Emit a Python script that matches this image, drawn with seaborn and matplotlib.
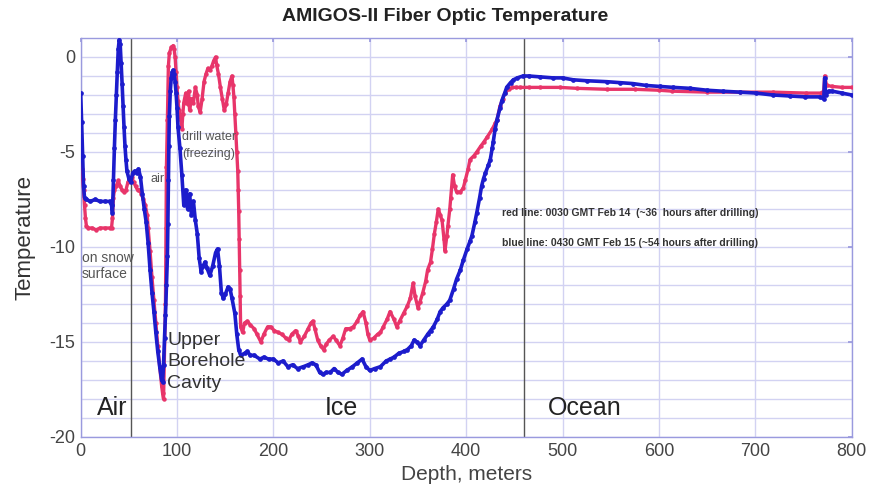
import matplotlib
matplotlib.use("Agg")
import matplotlib.pyplot as plt
import seaborn as sns
import pandas as pd

# ---- data ----
blue_depth = [0, 1, 2, 3, 4, 6, 10, 15, 20, 25, 30, 32, 33, 34, 35, 36, 37, 38, 39, 40, 41, 42, 43, 44, 45,
              46, 47, 48, 50, 52, 54, 56, 58, 60, 62, 64, 66, 68, 70, 72, 74, 76, 78, 80, 82, 84, 85, 86, 87,
              88, 89, 90, 90.5, 91, 91.5, 92, 93, 94, 95, 96, 97, 98, 99, 100, 101, 103, 105, 107, 109, 111,
              113, 115, 117, 119, 121, 123, 125, 127, 129, 131, 134, 137, 140, 142, 144, 146, 148, 150, 153,
              155, 157, 160, 162, 164, 166, 170, 173, 176, 180, 186, 190, 195, 200, 205, 210, 215, 220, 225,
              231, 236, 240, 244, 248, 251, 255, 259, 263, 267, 271, 276, 282, 287, 292, 296, 300, 305, 311,
              317, 321, 325, 330, 335, 339, 343, 346, 349, 352, 356, 360, 363, 366, 370, 373, 376, 380, 383,
              387, 390, 394, 397, 401, 404, 406, 409, 411, 414, 416, 418, 420, 423, 425, 427, 428, 430, 432,
              435, 437, 440, 442, 446, 449, 453, 459, 465, 477, 490, 500, 511, 525, 546, 560, 573, 587, 601,
              615, 632, 650, 666, 684, 701, 718, 736, 752, 767, 771, 772, 773, 776, 780, 790, 800]
blue_temp = [-1.9, -3.4, -5.2, -6.8, -7.4, -7.5, -7.6, -7.5, -7.6, -7.6, -7.6, -7.8, -8.2, -6.5, -4.8, -3.3,
             -2.0, -0.8, 0.4, 0.9, 0.7, -0.3, -1.4, -2.6, -3.7, -4.7, -5.4, -6.0, -6.4, -6.6, -6.1, -6.0,
             -6.1, -5.9, -6.3, -7.2, -8.0, -8.7, -9.8, -11.2, -12.4, -13.4, -14.5, -15.5, -16.3, -17.0,
             -17.1, -16.2, -14.8, -13.6, -12.0, -10.5, -8.8, -6.5, -4.7, -3.1, -1.8, -1.1, -0.8, -0.7, -0.9,
             -1.3, -1.9, -2.7, -3.7, -4.8, -6.2, -7.8, -7.0, -8.0, -7.2, -8.3, -7.6, -8.6, -9.3, -10.6,
             -11.3, -11.0, -10.8, -11.1, -11.5, -11.0, -10.3, -10.1, -11.0, -12.4, -12.7, -12.5, -12.1,
             -12.2, -12.7, -13.5, -14.6, -15.4, -15.7, -15.6, -15.5, -15.7, -15.7, -15.9, -15.8, -15.9,
             -15.9, -16.1, -16.0, -16.3, -16.2, -16.4, -16.3, -16.2, -16.1, -16.2, -16.6, -16.7, -16.6,
             -16.6, -16.4, -16.6, -16.7, -16.5, -16.3, -16.1, -15.9, -16.3, -16.5, -16.4, -16.3, -16.0,
             -15.9, -15.8, -15.6, -15.5, -15.4, -15.2, -14.9, -15.0, -15.2, -14.9, -14.6, -14.4, -14.2,
             -13.8, -13.4, -13.2, -13.0, -12.8, -12.2, -11.7, -11.2, -10.7, -10.1, -9.7, -9.4, -8.7, -8.2,
             -7.4, -6.8, -6.4, -6.1, -5.7, -5.4, -4.8, -4.5, -3.8, -3.3, -2.7, -2.3, -1.9, -1.6, -1.35,
             -1.2, -1.1, -1.0, -1.0, -1.05, -1.1, -1.1, -1.2, -1.25, -1.3, -1.35, -1.4, -1.5, -1.55, -1.6,
             -1.65, -1.75, -1.8, -1.85, -1.9, -2.0, -2.05, -2.1, -2.1, -2.2, -1.1, -2.0, -1.8, -1.8, -1.9,
             -2.0]

red_depth = [0, 1, 2, 3, 4, 5, 6, 8, 12, 16, 20, 25, 30, 32, 33, 34, 35, 37, 39, 41, 43, 45, 47, 49, 51,
             53, 55, 57, 59, 61, 63, 65, 67, 69, 70, 72, 74, 76, 78, 80, 82, 84, 85, 86, 88, 88.5, 89, 90,
             91, 92, 94, 96, 97, 98, 99, 100, 101, 102, 104, 105, 106, 107, 109, 111, 112, 113, 115, 117,
             119, 121, 122, 124, 126, 128, 130, 132, 134, 136, 138, 140, 141, 143, 145, 147, 149, 151, 153,
             155, 157, 158, 159, 160, 161, 162, 163, 163.5, 164, 164.5, 165, 165.5, 166, 168, 170, 173,
             176, 180, 183, 187, 190, 194, 197, 201, 205, 209, 213, 216, 219, 223, 226, 228, 232, 236, 239,
             241, 243, 246, 249, 252, 255, 258, 262, 265, 269, 272, 275, 279, 283, 287, 290, 293, 296, 298,
             300, 304, 308, 311, 314, 318, 321, 325, 328, 331, 335, 339, 342, 345, 347, 350, 352, 355, 358,
             360, 363, 365, 367, 369, 371, 373, 375, 377, 378, 380, 381, 383, 384, 386, 388, 390, 394, 397,
             399, 402, 404, 408, 411, 415, 418, 422, 427, 430, 432, 435, 438, 440, 444, 448, 452, 456, 465,
             477, 497, 515, 546, 575, 600, 614, 650, 684, 718, 753, 768, 771, 772, 774, 780, 790, 800]
red_temp = [-5.5, -5.9, -6.4, -7.0, -7.8, -8.5, -8.9, -9.0, -9.0, -9.1, -9.0, -9.0, -9.0, -9.0, -8.5, -7.4,
            -7.0, -6.8, -6.5, -6.8, -7.0, -7.1, -7.0, -6.6, -6.4, -6.3, -6.6, -6.8, -7.0, -7.0, -7.2, -7.5,
            -7.8, -8.3, -9.0, -10.2, -11.6, -12.8, -14.0, -15.2, -16.3, -17.3, -17.7, -18.0, -13.0, -9.0,
            -5.8, -3.3, -0.5, 0.2, 0.5, 0.6, 0.4, 0.0, -0.8, -1.6, -2.3, -2.8, -3.3, -3.8, -3.0, -2.4, -1.9,
            -2.5, -1.8, -2.8, -2.2, -2.4, -1.6, -2.0, -2.6, -2.9, -2.2, -1.3, -0.9, -0.6, -0.7, -0.5, -0.2,
            0.0, -0.4, -0.9, -1.6, -2.2, -2.8, -2.5, -1.9, -1.3, -1.0, -1.5, -2.1, -3.0, -4.0, -5.0, -6.0,
            -7.0, -8.1, -9.6, -11.2, -12.6, -14.2, -14.5, -14.0, -13.9, -14.1, -14.3, -14.6, -15.0, -14.6,
            -14.2, -14.2, -14.4, -14.5, -14.6, -14.8, -14.9, -14.6, -14.4, -14.7, -15.0, -14.7, -14.3,
            -14.0, -13.9, -14.3, -14.9, -15.2, -15.4, -15.1, -14.9, -14.7, -14.9, -15.2, -14.8, -14.3,
            -14.3, -14.2, -13.9, -13.6, -13.4, -14.0, -14.6, -14.9, -14.8, -14.6, -14.5, -14.2, -13.8,
            -13.4, -13.8, -14.2, -13.9, -13.5, -13.1, -12.7, -11.9, -12.6, -13.2, -12.9, -12.4, -11.8,
            -11.2, -10.8, -10.1, -9.3, -8.7, -8.0, -8.3, -8.6, -9.6, -10.2, -9.4, -8.9, -8.0, -7.4, -6.2,
            -6.8, -7.1, -7.1, -6.9, -6.5, -5.9, -5.4, -5.2, -5.0, -4.7, -4.5, -4.2, -3.8, -3.5, -3.3, -2.6,
            -2.2, -1.9, -1.7, -1.6, -1.6, -1.6, -1.6, -1.6, -1.6, -1.65, -1.7, -1.7, -1.75, -1.8, -1.85,
            -1.85, -1.85, -1.9, -1.9, -1.8, -1.0, -1.5, -1.55, -1.6, -1.6]

x_ticks = [0, 100, 200, 300, 400, 500, 600, 700, 800]
y_ticks = [0, -5, -10, -15, -20]
boundary_depths = [52, 460]

RED = "#e8356a"
BLUE = "#1c1ccc"
GRID = "#d2d2f2"
FRAME = "#9a9ade"

sns.set_theme(style="white")
plt.rcParams["font.family"] = ["Liberation Sans", "DejaVu Sans"]
plt.rcParams["axes.unicode_minus"] = False

fig = plt.figure(figsize=(8.72, 4.94), dpi=100)
ax = fig.add_axes([0.0925, 0.1154, 0.8842, 0.8077])

red_df = pd.DataFrame({"depth": red_depth, "temp": red_temp})
blue_df = pd.DataFrame({"depth": blue_depth, "temp": blue_temp})

sns.lineplot(data=red_df, x="depth", y="temp", ax=ax, color=RED, linewidth=2.4,
             marker="o", markersize=3.2, markeredgewidth=0, sort=False, estimator=None, zorder=3)
sns.lineplot(data=blue_df, x="depth", y="temp", ax=ax, color=BLUE, linewidth=2.6,
             marker="o", markersize=3.4, markeredgewidth=0, sort=False, estimator=None, zorder=4)

for d in boundary_depths:
    ax.axvline(d, color="#555555", linewidth=1.0, zorder=2)

ax.set_xlim(0, 800)
ax.set_ylim(-20, 1)
ax.set_xticks(x_ticks)
ax.set_yticks(y_ticks)
ax.set_yticks(list(range(-19, 1)), minor=True)
ax.grid(True, which="major", color=GRID, linewidth=1.0, zorder=0)
ax.grid(True, which="minor", axis="y", color=GRID, linewidth=1.0, zorder=0)
ax.set_axisbelow(True)
for s in ax.spines.values():
    s.set_color(FRAME)
    s.set_linewidth(1.0)
ax.tick_params(axis="both", which="major", direction="in", length=3, color=FRAME,
               labelsize=13, labelcolor="#444444", pad=4)
ax.tick_params(axis="both", which="minor", length=0)
ax.tick_params(top=True, right=True)

ax.set_xlabel("Depth, meters", fontsize=15, color="#444444", labelpad=4)
ax.set_ylabel("Temperature", fontsize=16, color="#333333", labelpad=10)
fig.text(0.510, 0.967, "AMIGOS-II Fiber Optic Temperature", ha="center", va="center",
         fontsize=14, fontweight="bold", color="#222222")

ax.text(105, -4.2, "drill water", fontsize=9, color="#555555", va="center", zorder=5)
ax.text(105, -5.1, "(freezing)", fontsize=9, color="#555555", va="center", zorder=5)
ax.text(72, -6.4, "air", fontsize=9, color="#555555", va="center", zorder=5)
ax.text(1.5, -10.6, "on snow", fontsize=10, color="#555555", va="center", zorder=5)
ax.text(1.5, -11.4, "surface", fontsize=10, color="#555555", va="center", zorder=5)
ax.text(90, -14.9, "Upper", fontsize=14, color="#333333", va="center", zorder=5)
ax.text(90, -16.05, "Borehole", fontsize=14, color="#333333", va="center", zorder=5)
ax.text(90, -17.2, "Cavity", fontsize=14, color="#333333", va="center", zorder=5)
ax.text(17, -18.5, "Air", fontsize=18, color="#222222", va="center", zorder=5)
ax.text(253, -18.5, "Ice", fontsize=18, color="#222222", va="center", zorder=5)
ax.text(485, -18.5, "Ocean", fontsize=18, color="#222222", va="center", zorder=5)
ax.text(437, -8.2, "red line: 0030 GMT Feb 14  (~36  hours after drilling)", fontsize=7.5,
        fontweight="bold", color="#333333", va="center", zorder=5)
ax.text(437, -9.8, "blue line: 0430 GMT Feb 15 (~54 hours after drilling)", fontsize=7.5,
        fontweight="bold", color="#333333", va="center", zorder=5)

fig.savefig("out.png", dpi=100, facecolor="white")
